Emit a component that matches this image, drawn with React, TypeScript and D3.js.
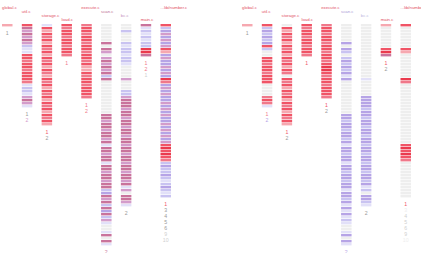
import React from "react";
import * as d3 from "d3";

const files = [
  "global.c",
  "util.c",
  "storage.c",
  "load.c",
  "execute.c",
  "scan.c",
  "bc.c",
  "main.c",
  "...lib/number.c",
];

// one char per source line: heat level 1-9, 0 = line never ran (spaces are ignored)
const leftLines = [
  "6",
  "8545454211 8878878887 12214541",
  "1 8687868786878687 6 8786878 6 87868786",
  "87887887887",
  "7 8878878878878 66 878878887",
  "000000 5054 0 45454525 00000000000 5545545545 1 55455 1 55455455 23545253524 1001 5051",
  "00 2 000 21221221 0000 4 000 2245 5545545545545545545545545545 1405541",
  "51212122995",
  "8 2 3 43434 8 6 34334343 9 7 34343343434334343434 898987 232232123212",
];

const rightLines = [
  "6",
  "8 232323 8 2 0 0 88788788 8 0000 787 1",
  "0 8687868786878687 0 8786878 6 87868786",
  "87887887887",
  "7 8878878878878 99 878878887",
  "000000 3032 0 23232313 00000000000 3323323323 1 33233 1 33233233 13323131312 1001 3031",
  "00 0 000 00000000 0000 1 000 0033 3323323323323323323323323323 1203321",
  "60000000895",
  "8 0 0 00000 8 6 00000000 9 7 00000000000000000000 898987 000000000000",
];

// heat of the whole file, used for the file name
const leftFileHeat = [8, 8, 8, 8, 8, 5, 4, 8, 8];
const rightFileHeat = [8, 8, 8, 8, 8, 3, 2, 8, 8];

// call counts listed under each file, with their heat (-1 = faded)
const leftNotes = [[1], [1, 2], [1, 2], [1], [1, 2], [2], [2], [1, 2, 1], [1, 3, 4, 5, 6, 9, 10]];
const leftNoteHeat = [[0], [0, 4], [8, 0], [7], [7, 7], [5], [0], [7, 7, -1], [8, 0, 0, 0, 0, -1, -1]];
const rightNotes = [[1], [1, 2], [1, 2], [1], [1, 2], [2], [2], [1, 2], [1, 3, 4, 5, 6, 9, 10]];
const rightNoteHeat = [[0], [7, 3], [8, 0], [8], [8, 0], [3], [0], [8, 0], [8, -2, -1, -1, -1, -1, -2]];

const heatColors = [
  "#eeeeee",
  "#e2e0f8",
  "#c9c3f1",
  "#b6a4e6",
  "#d39ccb",
  "#c9739c",
  "#f6a8b0",
  "#f0788a",
  "#f05466",
  "#ea3a4e",
];

const heat = d3.scaleOrdinal<number, string>().domain(d3.range(10)).range(heatColors);

const noteColor = (h: number) => (h === -2 ? "#eeeeee" : h === -1 ? "#cfcfcf" : h === 0 ? "#9a9a9a" : heat(h));

const parse = (s: string) => s.replace(/\s/g, "").split("").map(Number);

const width = 421;
const height = 253;
const top = 24;
const pitch = 3;

function Panel({
  x0,
  lines,
  fileHeat,
  notes,
  noteHeat,
}: {
  x0: number;
  lines: string[];
  fileHeat: number[];
  notes: number[][];
  noteHeat: number[][];
}) {
  const cols = lines.map(parse);
  const maxLines = d3.max(cols, (c) => c.length) ?? 1;

  const x = d3.scaleBand<string>().domain(files).range([x0, x0 + 169]).paddingInner(0.47).paddingOuter(0);
  const y = d3.scaleLinear().domain([0, maxLines]).range([top, top + maxLines * pitch]);

  return (
    <g>
      {files.map((f, i) => {
        const cx = x(f) ?? 0;
        const bw = x.bandwidth();
        const col = cols[i];
        const end = y(col.length);
        return (
          <g key={f}>
            <text
              x={cx}
              y={8.5 + (i % 4) * 4}
              fontSize={4.3}
              fill={d3.color(heat(fileHeat[i]))!.darker(0.2).formatHex()}
            >
              {f}
            </text>
            {col.map((v, j) => (
              <rect key={j} x={cx} y={y(j)} width={bw} height={pitch - 0.6} fill={heat(v)} />
            ))}
            {notes[i].map((n, k) => (
              <text
                key={k}
                x={cx + bw / 2}
                y={end + 7.5 + k * 6}
                fontSize={5.2}
                textAnchor="middle"
                fill={noteColor(noteHeat[i][k])}
              >
                {n}
              </text>
            ))}
          </g>
        );
      })}
    </g>
  );
}

export default function App() {
  return (
    <svg
      width={width}
      height={height}
      style={{ position: "absolute", left: 0, top: 0, background: "#fff" }}
      fontFamily="'Liberation Sans', Arial, sans-serif"
    >
      <Panel x0={2} lines={leftLines} fileHeat={leftFileHeat} notes={leftNotes} noteHeat={leftNoteHeat} />
      <Panel x0={242} lines={rightLines} fileHeat={rightFileHeat} notes={rightNotes} noteHeat={rightNoteHeat} />
    </svg>
  );
}
